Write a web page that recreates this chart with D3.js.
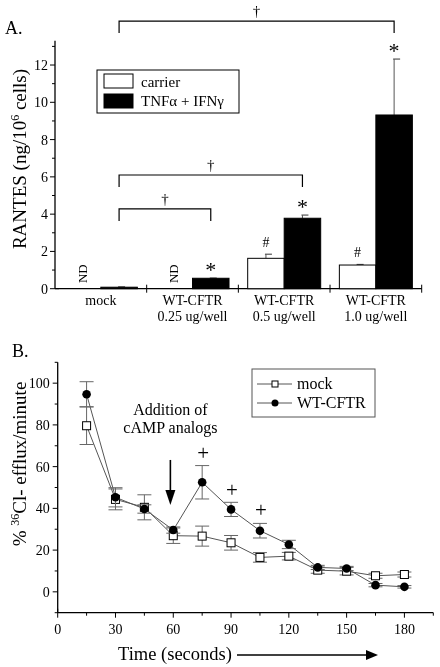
<!DOCTYPE html>
<html><head><meta charset="utf-8">
<script src="https://cdn.jsdelivr.net/npm/d3@7"></script>
<style>
body{margin:0;background:#fff;}
svg{display:block;will-change:transform;}
text{font-family:"Liberation Serif","DejaVu Serif",serif;font-variant-emoji:text;fill:#000;}
</style></head>
<body><svg id="c" width="440" height="667" font-family="Liberation Serif"></svg>
<script>
// ---------- Panel A data ----------
const groupsA = ["mock", "WT-CFTR|0.25 ug/well", "WT-CFTR|0.5 ug/well", "WT-CFTR|1.0 ug/well"];
const seriesA = ["carrier", "TNFα + IFNγ"];
const carrierVals = [null, null, 1.63, 1.27];      // null = ND
const carrierErr = [null, null, 0.22, 0.03];
const tnfVals = [0.08, 0.56, 3.78, 9.32];
const tnfErr = [0.02, 0.01, 0.17, 3.0];
const ticksA = [0, 2, 4, 6, 8, 10, 12];
const starGroups = [1, 2, 3];
const hashGroups = [2, 3];
const bracketTo = [1, 2, 3];
const bracketLevel = [4.28, 6.1, 14.36];

// ---------- Panel B data ----------
const timeB = [15, 30, 45, 60, 75, 90, 105, 120, 135, 150, 165, 180];
const mockB = [79.6, 44.3, 40.5, 26.9, 26.7, 23.5, 16.5, 17.1, 10.4, 9.9, 7.7, 8.3];
const mockBErr = [9.0, 5.0, 6.0, 3.7, 4.8, 3.5, 2.3, 1.8, 1.5, 1.8, 1.2, 1.2];
const wtB = [94.7, 45.3, 39.7, 29.6, 52.5, 39.5, 29.3, 22.7, 11.7, 11.2, 3.2, 2.4];
const wtBErr = [6.0, 4.6, 2.0, 1.5, 8.0, 3.4, 3.5, 2.0, 1.0, 1.0, 0.8, 0.6];
const ticksBx = [0, 30, 60, 90, 120, 150, 180];
const ticksBy = [0, 20, 40, 60, 80, 100];
const plusT = [75.5, 90.5, 105.5];
const plusV = [66.7, 48.8, 39.2];
const arrowT = 58.5, arrowFrom = 63.2, arrowTo = 41.6;

const svg = d3.select("#c");
const FS = 14;
const FF = "Liberation Serif";

// ================= PANEL A =================
const gA = svg.append("g");
const xA = d3.scaleBand().domain(groupsA).range([55, 421.7]);
const pairW = 73;
const xInner = d3.scaleBand().domain(seriesA)
  .range([(xA.bandwidth() - pairW) / 2, (xA.bandwidth() + pairW) / 2]);
const yA = d3.scaleLinear().domain([0, 13.3]).range([288.7, 40.8]);

// y axis
gA.append("line").attr("x1", 55).attr("x2", 55).attr("y1", yA(13.3)).attr("y2", yA(0))
  .attr("stroke", "#000").attr("stroke-width", 1.3);
d3.range(0, 14, 1).forEach(v => {
  const major = v % 2 === 0;
  gA.append("line").attr("x1", 55 - (major ? 5 : 3)).attr("x2", v === 0 ? 59 : 55)
    .attr("y1", yA(v)).attr("y2", yA(v)).attr("stroke", "#000").attr("stroke-width", 1);
});
ticksA.forEach(v => {
  gA.append("text").attr("x", 48).attr("y", yA(v) + 5).attr("text-anchor", "end")
    .attr("font-size", FS).text(v);
});
// x axis
gA.append("line").attr("x1", 55).attr("x2", 421.7).attr("y1", yA(0)).attr("y2", yA(0))
  .attr("stroke", "#000").attr("stroke-width", 1.3);
groupsA.forEach((g, i) => {
  const xe = xA(g) + xA.bandwidth();
  gA.append("line").attr("x1", xe).attr("x2", xe).attr("y1", yA(0) - 4).attr("y2", yA(0) + 4)
    .attr("stroke", "#000");
  const lines = g.split("|");
  lines.forEach((t, k) => {
    gA.append("text").attr("x", xA(g) + xA.bandwidth() / 2).attr("y", 305 + k * 16)
      .attr("text-anchor", "middle").attr("font-size", FS).text(t);
  });
});

// bars
const barsData = [];
groupsA.forEach((g, i) => {
  barsData.push({g, i, s: seriesA[0], v: carrierVals[i], e: carrierErr[i]});
  barsData.push({g, i, s: seriesA[1], v: tnfVals[i], e: tnfErr[i]});
});
const bw = xInner.bandwidth();
barsData.forEach(d => {
  const cx = xA(d.g) + xInner(d.s) + bw / 2;
  if (d.v === null) {
    gA.append("text").attr("transform", `translate(${cx + 4},${yA(0) - 15}) rotate(-90)`)
      .attr("text-anchor", "middle").attr("font-size", 13).text("ND");
    return;
  }
  if (d.e) {
    gA.append("line").attr("x1", cx).attr("x2", cx).attr("y1", yA(d.v)).attr("y2", yA(d.v + d.e))
      .attr("stroke", "#555").attr("stroke-width", 1);
    gA.append("line").attr("x1", cx - 1).attr("x2", cx + 6).attr("y1", yA(d.v + d.e)).attr("y2", yA(d.v + d.e))
      .attr("stroke", "#555").attr("stroke-width", 1.2);
  }
  gA.append("rect").attr("x", xA(d.g) + xInner(d.s)).attr("width", bw)
    .attr("y", yA(d.v)).attr("height", yA(0) - yA(d.v))
    .attr("fill", d.s === seriesA[0] ? "#fff" : "#000").attr("stroke", "#000").attr("stroke-width", 1);
});
// stars
starGroups.forEach(i => {
  const cx = xA(groupsA[i]) + xInner(seriesA[1]) + bw / 2;
  gA.append("text").attr("x", cx).attr("y", yA(tnfVals[i] + tnfErr[i]) - 1)
    .attr("text-anchor", "middle").attr("font-size", 22).attr("font-family", FF).text("*");
});
hashGroups.forEach(i => {
  const cx = xA(groupsA[i]) + xInner(seriesA[0]) + bw / 2;
  gA.append("text").attr("x", cx).attr("y", yA(carrierVals[i] + carrierErr[i]) - 7)
    .attr("text-anchor", "middle").attr("font-size", 14).attr("font-family", FF).text("#");
});
// brackets
const bx0 = xA(groupsA[0]) + xInner(seriesA[1]) + bw / 2;
bracketTo.forEach((j, k) => {
  const bx1 = xA(groupsA[j]) + xInner(seriesA[1]) + bw / 2;
  const by = yA(bracketLevel[k]);
  gA.append("path").attr("d", `M${bx0},${by + 12}V${by}H${bx1}V${by + 12}`)
    .attr("fill", "none").attr("stroke", "#000").attr("stroke-width", 1.2);
  gA.append("text").attr("x", (bx0 + bx1) / 2).attr("y", by - 5)
    .attr("text-anchor", "middle").attr("font-size", 15).attr("font-family", FF).text("†");
});
// legend A
gA.append("rect").attr("x", 97).attr("y", 70).attr("width", 142).attr("height", 43)
  .attr("fill", "#fff").attr("stroke", "#000").attr("stroke-width", 1);
seriesA.forEach((s, k) => {
  gA.append("rect").attr("x", 104).attr("y", 74 + k * 20).attr("width", 29).attr("height", 14)
    .attr("fill", k === 0 ? "#fff" : "#000").attr("stroke", "#000");
  gA.append("text").attr("x", 141).attr("y", 87 + k * 19).attr("font-size", 15).text(s);
});
// labels A
gA.append("text").attr("x", 5).attr("y", 34).attr("font-size", 18).text("A.");
const ylabA = gA.append("text").attr("transform", "translate(26,159) rotate(-90)")
  .attr("text-anchor", "middle").attr("font-size", 19);
ylabA.append("tspan").text("RANTES (ng/10");
ylabA.append("tspan").attr("baseline-shift", "super").attr("font-size", 12).text("6");
ylabA.append("tspan").text(" cells)");

// ================= PANEL B =================
const gB = svg.append("g");
const xB = d3.scaleLinear().domain([0, 195]).range([57.7, 433.3]);
const yB = d3.scaleLinear().domain([-10, 110]).range([612.7, 362.3]);

gB.append("line").attr("x1", xB(0)).attr("x2", xB(0)).attr("y1", yB(110)).attr("y2", yB(-10))
  .attr("stroke", "#000").attr("stroke-width", 1.3);
gB.append("line").attr("x1", xB(0)).attr("x2", xB(195)).attr("y1", yB(-10)).attr("y2", yB(-10))
  .attr("stroke", "#000").attr("stroke-width", 1.3);
d3.range(-10, 111, 10).forEach(v => {
  const major = v % 20 === 0;
  gB.append("line").attr("x1", xB(0) - (major ? 5 : 3)).attr("x2", xB(0))
    .attr("y1", yB(v)).attr("y2", yB(v)).attr("stroke", "#000");
});
ticksBy.forEach(v => {
  gB.append("text").attr("x", xB(0) - 8).attr("y", yB(v) + 5).attr("text-anchor", "end")
    .attr("font-size", FS).text(v);
});
d3.range(0, 196, 15).forEach(v => {
  const major = v % 30 === 0;
  gB.append("line").attr("x1", xB(v)).attr("x2", xB(v))
    .attr("y1", yB(-10) - (v === 0 ? 4 : 0)).attr("y2", yB(-10) + (major ? 5 : 3)).attr("stroke", "#000");
});
ticksBx.forEach(v => {
  gB.append("text").attr("x", xB(v)).attr("y", 634).attr("text-anchor", "middle")
    .attr("font-size", FS).text(v);
});

function drawSeries(vals, errs, kind) {
  const line = d3.line().x((d, i) => xB(timeB[i])).y(d => yB(d));
  gB.append("path").attr("d", line(vals)).attr("fill", "none").attr("stroke", "#555").attr("stroke-width", 1);
  vals.forEach((v, i) => {
    const cx = xB(timeB[i]);
    const e = errs[i];
    gB.append("path").attr("d",
      `M${cx},${yB(v - e)}V${yB(v + e)}M${cx - 7},${yB(v + e)}H${cx + 7}M${cx - 7},${yB(v - e)}H${cx + 7}`)
      .attr("stroke", "#666").attr("stroke-width", 1).attr("fill", "none");
  });
  vals.forEach((v, i) => {
    const cx = xB(timeB[i]);
    if (kind === "square") {
      gB.append("rect").attr("x", cx - 4).attr("y", yB(v) - 4).attr("width", 8).attr("height", 8)
        .attr("fill", "#fff").attr("stroke", "#000").attr("stroke-width", 1);
    } else {
      gB.append("circle").attr("cx", cx).attr("cy", yB(v)).attr("r", 4.3).attr("fill", "#000");
    }
  });
}
drawSeries(mockB, mockBErr, "square");
drawSeries(wtB, wtBErr, "circle");

plusT.forEach((t, i) => {
  gB.append("text").attr("x", xB(t)).attr("y", yB(plusV[i]) + 7).attr("text-anchor", "middle")
    .attr("font-size", 21).attr("font-family", FF).text("+");
});
// arrow
gB.append("line").attr("x1", xB(arrowT)).attr("x2", xB(arrowT))
  .attr("y1", yB(arrowFrom)).attr("y2", yB(arrowTo) - 10).attr("stroke", "#000").attr("stroke-width", 1.6);
gB.append("path").attr("d",
  `M${xB(arrowT) - 5},${yB(arrowTo) - 15}L${xB(arrowT) + 5},${yB(arrowTo) - 15}L${xB(arrowT)},${yB(arrowTo)}Z`)
  .attr("fill", "#000");
gB.append("text").attr("x", xB(arrowT)).attr("y", 415).attr("text-anchor", "middle").attr("font-size", 16).text("Addition of");
gB.append("text").attr("x", xB(arrowT)).attr("y", 433).attr("text-anchor", "middle").attr("font-size", 16).text("cAMP analogs");

// legend B
gB.append("rect").attr("x", 252).attr("y", 369).attr("width", 123).attr("height", 48)
  .attr("fill", "#fff").attr("stroke", "#555").attr("stroke-width", 1);
["mock", "WT-CFTR"].forEach((s, k) => {
  const ly = 384 + k * 19;
  gB.append("line").attr("x1", 257).attr("x2", 292).attr("y1", ly).attr("y2", ly).attr("stroke", "#555");
  if (k === 0) gB.append("rect").attr("x", 272).attr("y", ly - 3).attr("width", 6).attr("height", 6)
    .attr("fill", "#fff").attr("stroke", "#000");
  else gB.append("circle").attr("cx", 275).attr("cy", ly).attr("r", 3.5).attr("fill", "#000");
  gB.append("text").attr("x", 297).attr("y", ly + 5).attr("font-size", 16).text(s);
});

gB.append("text").attr("x", 12).attr("y", 357).attr("font-size", 18).text("B.");
const ylabB = gB.append("text").attr("transform", "translate(26,464) rotate(-90)")
  .attr("text-anchor", "middle").attr("font-size", 19);
ylabB.append("tspan").text("% ");
ylabB.append("tspan").attr("baseline-shift", "super").attr("font-size", 12).text("36");
ylabB.append("tspan").text("Cl- efflux/minute");

gB.append("text").attr("x", 118).attr("y", 660).attr("font-size", 18.5).text("Time (seconds)");
gB.append("line").attr("x1", 237).attr("x2", 368).attr("y1", 655).attr("y2", 655).attr("stroke", "#000").attr("stroke-width", 1.3);
gB.append("path").attr("d", "M366,650L378,655L366,660Z").attr("fill", "#000");
</script></body></html>
